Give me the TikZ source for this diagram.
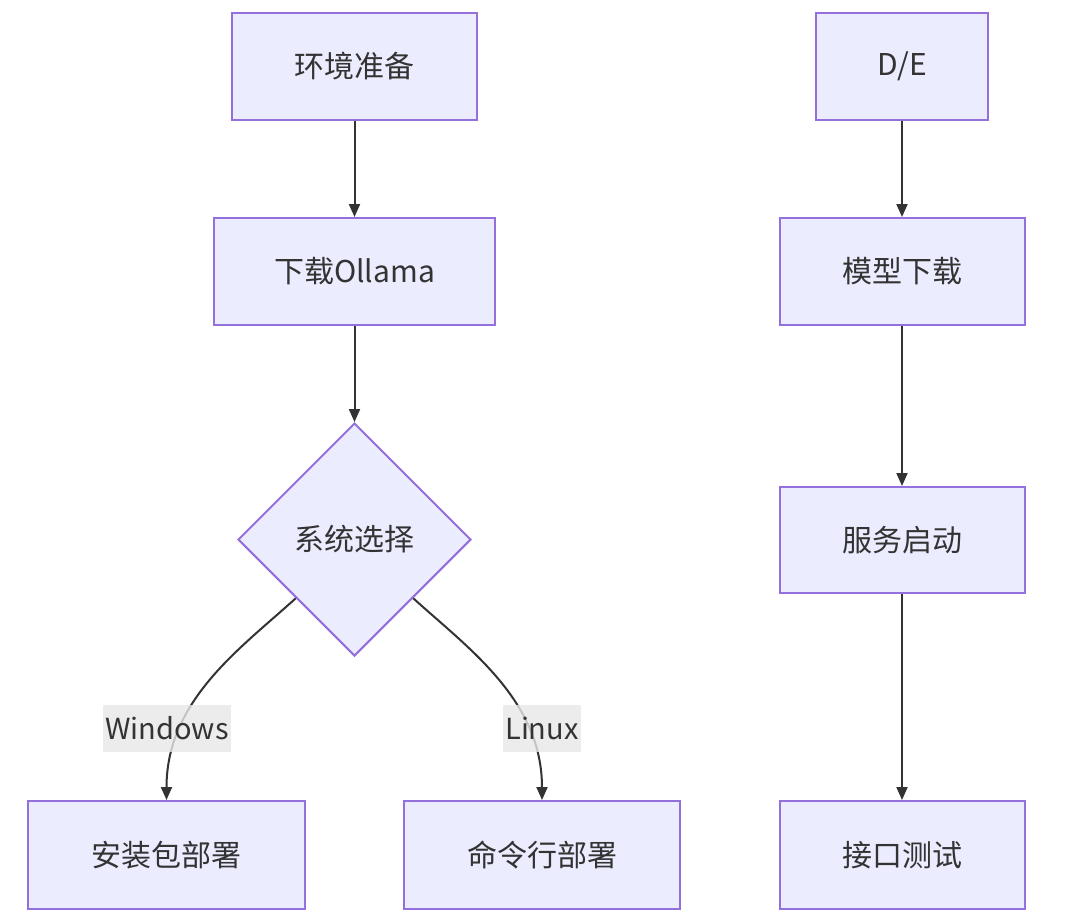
\documentclass[tikz,border=0pt]{standalone}
\usepackage{fontspec}
\setmainfont{Noto Sans CJK SC}
\usetikzlibrary{shapes.geometric,arrows.meta,calc}
\definecolor{nodefill}{HTML}{ECECFF}
\definecolor{nodeline}{HTML}{9370DB}
\definecolor{txt}{HTML}{333333}
\definecolor{lblbg}{HTML}{E8E8E8}
\begin{document}
\begin{tikzpicture}[x=1pt,y=-1pt,
  box/.style={draw=nodeline,fill=nodefill,line width=2pt,text=txt,font=\fontsize{30}{36}\selectfont,inner sep=0pt},
  dia/.style={box,diamond,aspect=1,minimum width=233pt,minimum height=233pt},
  conn/.style={draw=txt,line width=2pt,-{Triangle[length=13pt,width=11pt]}},
  lbl/.style={fill=lblbg,fill opacity=0.8,text opacity=1,text=txt,font=\fontsize{29}{35}\selectfont,minimum height=47pt,inner xsep=2pt,inner ysep=0pt}]
\fill[white] (0,0) rectangle (1080,922);
\path[use as bounding box] (0,0) rectangle (1080,922);
% left column
\node[box,minimum width=245pt,minimum height=107pt] (a) at (354.5,66.5) {环境准备};
\node[box,minimum width=281pt,minimum height=107pt] (b) at (354.5,271.5) {下载Ollama};
\node[dia] (c) at (354.5,539.5) {系统选择};
\node[box,minimum width=277pt,minimum height=108pt] (w) at (166.5,855) {安装包部署};
\node[box,minimum width=276pt,minimum height=108pt] (l) at (542,855) {命令行部署};
% right column
\node[box,minimum width=172pt,minimum height=107pt] (de) at (902,66.5) {D/E};
\node[box,minimum width=245pt,minimum height=107pt] (m) at (902,271.5) {模型下载};
\node[box,minimum width=245pt,minimum height=106pt] (s) at (902,540) {服务启动};
\node[box,minimum width=245pt,minimum height=108pt] (t) at (902,855) {接口测试};
% connectors
\draw[conn] (a.south) -- (b.north);
\draw[conn] (b.south) -- (c.north);
\draw[conn] ($(c.west)!0.5!(c.south)$) .. controls +(-55,50) and +(0,-100) .. (w.north);
\draw[conn] ($(c.east)!0.5!(c.south)$) .. controls +(55,50) and +(0,-100) .. (l.north);
\draw[conn] (de.south) -- (m.north);
\draw[conn] (m.south) -- (s.north);
\draw[conn] (s.south) -- (t.north);
% edge labels
\node[lbl] (lw) at (167,728) {Windows};
\node[lbl] (ll) at (542,728) {Linux};
\end{tikzpicture}
\end{document}
